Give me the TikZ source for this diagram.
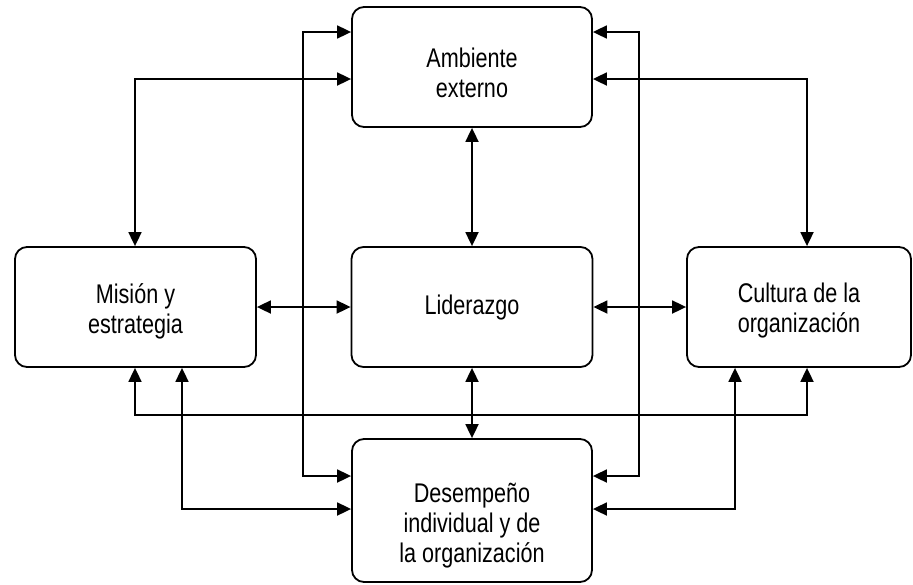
\documentclass[tikz,border=0pt]{standalone}
\usepackage{fontspec}
\setmainfont{Liberation Sans}[FakeStretch=0.80]
\usetikzlibrary{arrows.meta}
\begin{document}
\begin{tikzpicture}[x=1pt,y=-1pt,
  box/.style={draw,line width=1.8pt,rounded corners=12pt,inner sep=0pt},
  txt/.style={align=center,font=\fontsize{27}{30}\selectfont,inner sep=0pt},
  dbl/.style={line width=1.8pt,{Triangle[length=14pt,width=13pt]}-{Triangle[length=14pt,width=13pt]}},
]
\useasboundingbox (0,0) rectangle (913,584);

% boxes
\node[box,minimum width=240pt,minimum height=120pt,
      label={[txt,yshift=-6pt]center:{Ambiente\\externo}}] (amb) at (472,67) {};
\node[box,minimum width=241pt,minimum height=120pt,
      label={[txt,yshift=-4pt]center:{Misión y\\estrategia}}] (mis) at (135.5,307) {};
\node[box,minimum width=241pt,minimum height=120pt,
      label={[txt,yshift=-1pt]center:Liderazgo}] (lid) at (472,307) {};
\node[box,minimum width=224pt,minimum height=120pt,
      label={[txt,yshift=-4pt]center:{Cultura de la\\organización}}] (cul) at (799,307) {};
\node[box,minimum width=240pt,minimum height=143pt,
      label={[txt,yshift=-15pt]center:{Desempeño\\individual y de\\la organización}}] (des) at (472,510.5) {};

% routing levels and columns
\coordinate (hA) at (0,32);
\coordinate (hB) at (0,79);
\coordinate (hD) at (0,415);
\coordinate (hE) at (0,476);
\coordinate (hF) at (0,509);
\coordinate (vA) at (135,0);
\coordinate (vB) at (182,0);
\coordinate (vC) at (303,0);
\coordinate (vE) at (639,0);
\coordinate (vF) at (735,0);
\coordinate (vG) at (807,0);

% connectors
\draw[dbl] (amb.west |- hA) -| (vC |- hE) -- (des.west |- hE);
\draw[dbl] (amb.east |- hA) -| (vE |- hE) -- (des.east |- hE);
\draw[dbl] (amb.west |- hB) -| (mis.north -| vA);
\draw[dbl] (amb.east |- hB) -| (cul.north -| vG);
\draw[dbl] (amb.south) -- (lid.north);
\draw[dbl] (lid.south) -- (des.north);
\draw[dbl] (mis.east) -- (lid.west);
\draw[dbl] (lid.east) -- (cul.west);
\draw[dbl] (mis.south -| vA) |- (vG |- hD) -- (cul.south -| vG);
\draw[dbl] (mis.south -| vB) |- (des.west |- hF);
\draw[dbl] (cul.south -| vF) |- (des.east |- hF);
\end{tikzpicture}
\end{document}
